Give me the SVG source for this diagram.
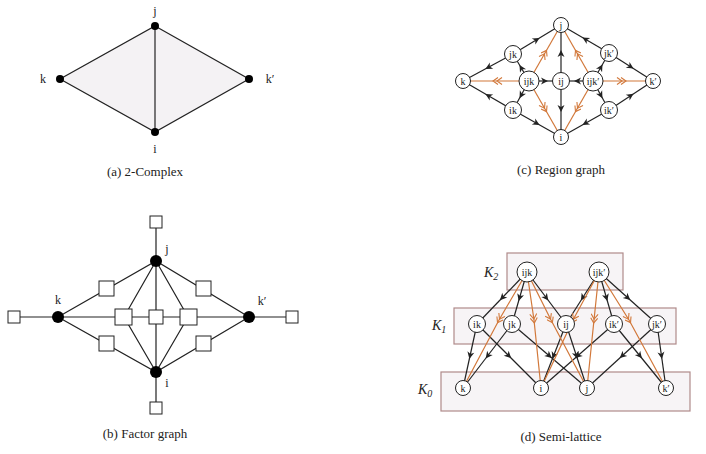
<svg xmlns="http://www.w3.org/2000/svg" width="706" height="454" viewBox="0 0 706 454">
<style>
text{font-family:"Liberation Serif","DejaVu Serif",serif;fill:#222}
.lbl{font-size:12px;text-anchor:middle}
.cap{font-size:13px;text-anchor:middle}
.nl{font-size:10px;text-anchor:middle}
.e{stroke:#222;stroke-width:1.2;fill:none}
.a{stroke:#222;stroke-width:1.2;fill:none;marker-mid:url(#ab)}
.o{stroke:#d2783a;stroke-width:1.2;fill:none;marker-mid:url(#ao)}
.n{fill:#fff;stroke:#222;stroke-width:1}
.d{fill:#000}
.f{fill:#fff;stroke:#222;stroke-width:1}
.box{fill:#f6f2f4;fill-opacity:0.85;stroke:#b08a8a;stroke-width:1.2}
.k{font-size:14px;font-style:italic}
</style>
<defs>
<marker id="ab" viewBox="-5 -4 8 8" markerWidth="8" markerHeight="8" orient="auto" markerUnits="userSpaceOnUse"><path d="M-4,-3.5 L3,0 L-4,3.5 L-2,0 Z" fill="#222"/></marker>
<marker id="ao" viewBox="-7 -4 12 8" markerWidth="12" markerHeight="8" orient="auto" markerUnits="userSpaceOnUse"><path d="M-6,-3.5 L-1,0 L-6,3.5 M-2,-3.5 L3,0 L-2,3.5" fill="none" stroke="#d2783a" stroke-width="1.1"/></marker>
</defs>

<!-- (a) 2-Complex -->
<g id="complex">
<polygon points="155,26 249,79 155,132 60,79" fill="#f4f2f4" stroke="#222" stroke-width="1.2"/>
<line class="e" x1="155" y1="26" x2="155" y2="132"/>
<circle class="d" cx="155" cy="26" r="4"/><circle class="d" cx="60" cy="79" r="4"/>
<circle class="d" cx="249" cy="79" r="4"/><circle class="d" cx="155" cy="132" r="4"/>
<text class="lbl" x="155" y="15">j</text><text class="lbl" x="43" y="83">k</text>
<text class="lbl" x="270" y="83">k′</text><text class="lbl" x="155" y="153">i</text>
<text class="cap" x="145" y="176">(a) 2-Complex</text>
</g>

<!-- (b) Factor graph -->
<g id="factor-edges">
<path class="e" d="M156,222 V408 M14,317 H292 M58,317 L156,261 L249,317 L156,372 Z M156,261 L124,317 L156,372 M156,261 L188,317 L156,372"/>
</g>
<g id="factor-nodes">
<rect class="f" x="150" y="216" width="12" height="12"/>
<rect class="f" x="150" y="402" width="12" height="12"/>
<rect class="f" x="8" y="311" width="12" height="12"/>
<rect class="f" x="286" y="311" width="12" height="12"/>
<rect class="f" x="99" y="281" width="15" height="15"/>
<rect class="f" x="99" y="336" width="15" height="15"/>
<rect class="f" x="196" y="281" width="15" height="15"/>
<rect class="f" x="196" y="336" width="15" height="15"/>
<rect class="f" x="115" y="309" width="17" height="16"/>
<rect class="f" x="149" y="310" width="14" height="14"/>
<rect class="f" x="180" y="309" width="17" height="16"/>
<circle class="d" cx="156" cy="261" r="6"/><circle class="d" cx="58" cy="317" r="6"/>
<circle class="d" cx="249" cy="317" r="6"/><circle class="d" cx="156" cy="372" r="6"/>
<text class="lbl" x="167" y="253">j</text><text class="lbl" x="58" y="304">k</text>
<text class="lbl" x="262" y="305">k′</text><text class="lbl" x="167" y="387">i</text>
<text class="cap" x="145" y="438">(b) Factor graph</text>
</g>

<!-- (c) Region graph -->
<g id="region-edges">
<path class="a" d="M513,54 L537,39.5 L561,25"/>
<path class="a" d="M513,54 L488,67.5 L463,81"/>
<path class="a" d="M529,81 L521,67.5 L513,54"/>
<path class="a" d="M529,81 L521,95.5 L513,110"/>
<path class="a" d="M529,81 L545,81 L561,81"/>
<path class="a" d="M513,110 L488,95.5 L463,81"/>
<path class="a" d="M513,110 L537,123.5 L561,137"/>
<path class="a" d="M561,81 L561,53 L561,25"/>
<path class="a" d="M561,81 L561,109 L561,137"/>
<path class="a" d="M609,53 L585,39 L561,25"/>
<path class="a" d="M609,53 L631,67 L653,81"/>
<path class="a" d="M593,81 L601,67 L609,53"/>
<path class="a" d="M593,81 L601,95.5 L609,110"/>
<path class="a" d="M593,81 L577,81 L561,81"/>
<path class="a" d="M609,110 L631,95.5 L653,81"/>
<path class="a" d="M609,110 L585,123.5 L561,137"/>
<path class="o" d="M529,81 L496,81 L463,81"/>
<path class="o" d="M529,81 L545,53 L561,25"/>
<path class="o" d="M529,81 L545,109 L561,137"/>
<path class="o" d="M593,81 L623,81 L653,81"/>
<path class="o" d="M593,81 L577,53 L561,25"/>
<path class="o" d="M593,81 L577,109 L561,137"/>
</g>
<g id="region-nodes">
<g id="rj"><circle class="n" cx="561" cy="25" r="7.5"/><text class="nl" x="561" y="29">j</text></g>
<g id="rjk"><circle class="n" cx="513" cy="54" r="8.5"/><text class="nl" x="513" y="58">jk</text></g>
<g id="rjk2"><circle class="n" cx="609" cy="53" r="8.5"/><text class="nl" x="609" y="57">jk′</text></g>
<g id="rk"><circle class="n" cx="463" cy="81" r="7.5"/><text class="nl" x="463" y="85">k</text></g>
<g id="rijk"><circle class="n" cx="529" cy="81" r="10"/><text class="nl" x="529" y="85">ijk</text></g>
<g id="rij"><circle class="n" cx="561" cy="81" r="8.5"/><text class="nl" x="561" y="85">ij</text></g>
<g id="rijk2"><circle class="n" cx="593" cy="81" r="10"/><text class="nl" x="593" y="85">ijk′</text></g>
<g id="rk2"><circle class="n" cx="653" cy="81" r="7.5"/><text class="nl" x="653" y="85">k′</text></g>
<g id="rik"><circle class="n" cx="513" cy="110" r="8.5"/><text class="nl" x="513" y="114">ik</text></g>
<g id="rik2"><circle class="n" cx="609" cy="110" r="8.5"/><text class="nl" x="609" y="114">ik′</text></g>
<g id="ri"><circle class="n" cx="561" cy="137" r="7.5"/><text class="nl" x="561" y="141">i</text></g>
<text class="cap" x="561" y="174">(c) Region graph</text>
</g>

<!-- (d) Semi-lattice -->
<g id="lattice-boxes">
<rect class="box" x="507" y="253" width="116" height="37"/>
<rect class="box" x="454" y="308" width="222" height="36"/>
<rect class="box" x="441" y="372" width="249" height="39"/>
<text class="k" x="484" y="277">K<tspan font-size="10" dy="3">2</tspan></text>
<text class="k" x="432" y="330">K<tspan font-size="10" dy="3">1</tspan></text>
<text class="k" x="418" y="394">K<tspan font-size="10" dy="3">0</tspan></text>
</g>
<g id="lattice-edges">
<path class="a" d="M527,272 L502,298 L477,324"/>
<path class="a" d="M527,272 L519.5,298 L512,324"/>
<path class="a" d="M527,272 L546.5,298 L566,324"/>
<path class="a" d="M599,272 L582.5,298 L566,324"/>
<path class="a" d="M599,272 L606.5,298 L614,324"/>
<path class="a" d="M599,272 L628,298 L657,324"/>
<path class="a" d="M477,324 L470,356 L463,388"/>
<path class="a" d="M477,324 L509,356 L541,388"/>
<path class="a" d="M512,324 L487.5,356 L463,388"/>
<path class="a" d="M512,324 L549.5,356 L587,388"/>
<path class="a" d="M566,324 L553.5,356 L541,388"/>
<path class="a" d="M566,324 L576.5,356 L587,388"/>
<path class="a" d="M614,324 L577.5,356 L541,388"/>
<path class="a" d="M614,324 L640,356 L666,388"/>
<path class="a" d="M657,324 L622,356 L587,388"/>
<path class="a" d="M657,324 L661.5,356 L666,388"/>
<path class="o" d="M527,272 L499,320 L463,388"/>
<path class="o" d="M527,272 L534,320 L541,388"/>
<path class="o" d="M527,272 L551,320 L587,388"/>
<path class="o" d="M599,272 L573,320 L541,388"/>
<path class="o" d="M599,272 L594,320 L587,388"/>
<path class="o" d="M599,272 L629,320 L666,388"/>
</g>
<g id="lattice-nodes">
<g id="lijk"><circle class="n" cx="527" cy="272" r="10"/><text class="nl" x="527" y="276">ijk</text></g>
<g id="lijk2"><circle class="n" cx="599" cy="272" r="10"/><text class="nl" x="599" y="276">ijk′</text></g>
<g id="lik"><circle class="n" cx="477" cy="324" r="8.5"/><text class="nl" x="477" y="328">ik</text></g>
<g id="ljk"><circle class="n" cx="512" cy="324" r="8.5"/><text class="nl" x="512" y="328">jk</text></g>
<g id="lij"><circle class="n" cx="566" cy="324" r="8.5"/><text class="nl" x="566" y="328">ij</text></g>
<g id="lik2"><circle class="n" cx="614" cy="324" r="8.5"/><text class="nl" x="614" y="328">ik′</text></g>
<g id="ljk2"><circle class="n" cx="657" cy="324" r="8.5"/><text class="nl" x="657" y="328">jk′</text></g>
<g id="lk"><circle class="n" cx="463" cy="388" r="7.5"/><text class="nl" x="463" y="392">k</text></g>
<g id="li"><circle class="n" cx="541" cy="388" r="7.5"/><text class="nl" x="541" y="392">i</text></g>
<g id="lj"><circle class="n" cx="587" cy="388" r="7.5"/><text class="nl" x="587" y="392">j</text></g>
<g id="lk2"><circle class="n" cx="666" cy="388" r="7.5"/><text class="nl" x="666" y="392">k′</text></g>
<text class="cap" x="561" y="441">(d) Semi-lattice</text>
</g>
</svg>
